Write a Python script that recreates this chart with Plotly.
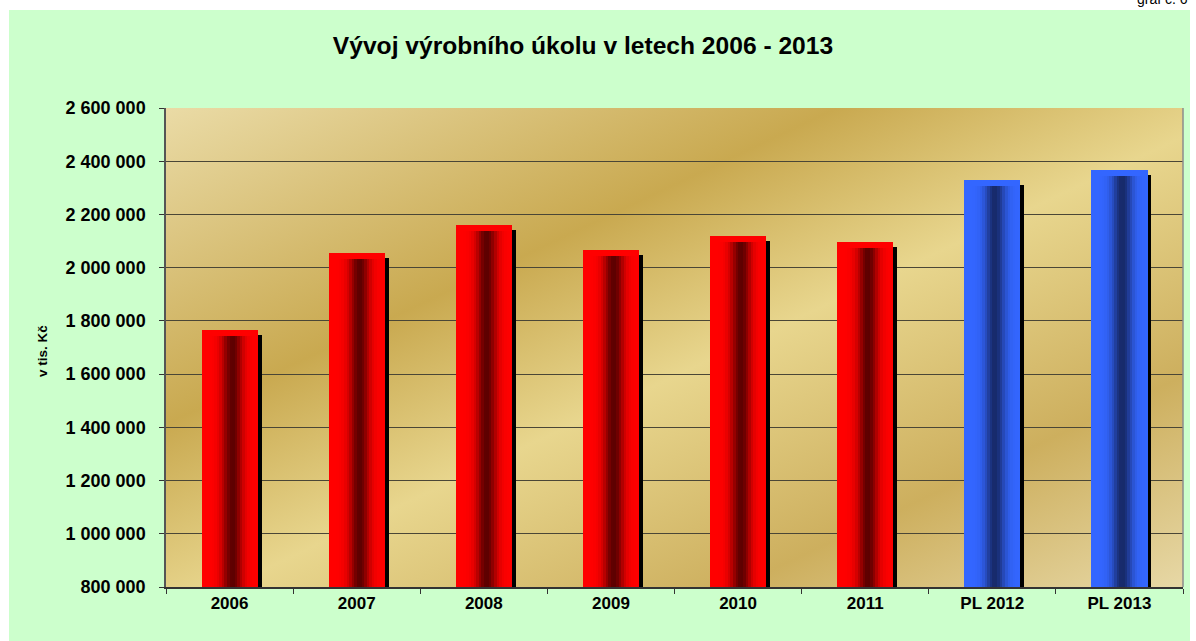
import base64
import math
import plotly.graph_objects as go

# ---- data ----
categories = ["2006", "2007", "2008", "2009", "2010", "2011", "PL 2012", "PL 2013"]
values = [1766000, 2056000, 2161000, 2067000, 2120000, 2097000, 2330000, 2368000]
y_tickvals = [800000, 1000000, 1200000, 1400000, 1600000, 1800000, 2000000, 2200000, 2400000, 2600000]
y_ticktext = ["800 000", "1 000 000", "1 200 000", "1 400 000", "1 600 000",
              "1 800 000", "2 000 000", "2 200 000", "2 400 000", "2 600 000"]

title_text = "Vývoj výrobního úkolu v letech 2006 - 2013"
y_title = "v tis. Kč"
corner_note = "graf č. 6"

# ---- layout geometry ----
W, H = 1196, 641
ml, mr, mt, mb = 166, 13, 108, 54
pw, ph = W - ml - mr, H - mt - mb
units_per_px = (2600000 - 800000) / ph
cat_px = pw / len(categories)


def px2x(px):
    return (px - ml) / pw


def px2y(py):
    return (H - mb - py) / ph


FONT = "Liberation Sans, Arial, sans-serif"

bar_w = 0.44
n_slices = 22


def hex2rgb(h):
    h = h.lstrip("#")
    return tuple(int(h[i:i + 2], 16) for i in (0, 2, 4))


def lerp(c1, c2, f):
    a, b = hex2rgb(c1), hex2rgb(c2)
    return "rgb(%d,%d,%d)" % tuple(round(a[i] + (b[i] - a[i]) * f) for i in range(3))


edge_cols = ["#FF0000" if not c.startswith("PL") else "#3366FF" for c in categories]
dark_cols = ["#5C0000" if not c.startswith("PL") else "#172A6A" for c in categories]

fig = go.Figure()

# shadow
shadow_dx = 4 / cat_px
shadow_drop = 5 * units_per_px
fig.add_trace(go.Bar(
    x=categories, y=[v - shadow_drop for v in values],
    width=bar_w, offset=-bar_w / 2 + shadow_dx,
    marker=dict(color="#000000", line=dict(width=0)),
    hoverinfo="skip", showlegend=False,
))

# gradient slices
sw = bar_w / n_slices
for k in range(n_slices):
    t = (k + 0.5) / n_slices
    f = math.exp(-((t - 0.55) / 0.18) ** 2)
    cols = [lerp(e, d, f) for e, d in zip(edge_cols, dark_cols)]
    fig.add_trace(go.Bar(
        x=categories, y=values,
        width=sw * 1.04, offset=-bar_w / 2 + k * sw,
        marker=dict(color=cols, line=dict(width=0)),
        hoverinfo="skip", showlegend=False,
    ))

# cylinder cap
cap_h = 6 * units_per_px
fig.add_trace(go.Bar(
    x=categories, y=[cap_h] * len(values), base=[v - cap_h for v in values],
    width=bar_w, offset=-bar_w / 2,
    marker=dict(color=edge_cols, line=dict(width=0), cornerradius=3),
    hoverinfo="skip", showlegend=False,
))

# plot-area gradient background (SVG)
svg = (
    '<svg xmlns="http://www.w3.org/2000/svg" width="1000" height="500" preserveAspectRatio="none">'
    '<defs><linearGradient id="g" x1="0" y1="0" x2="1" y2="1">'
    '<stop offset="0" stop-color="#EADBA6"/>'
    '<stop offset="0.33" stop-color="#C9A950"/>'
    '<stop offset="0.53" stop-color="#E8D68E"/>'
    '<stop offset="0.78" stop-color="#CDAF5E"/>'
    '<stop offset="1" stop-color="#E7D8A6"/>'
    '</linearGradient></defs>'
    '<rect width="1000" height="500" fill="url(#g)"/></svg>'
)
svg_uri = "data:image/svg+xml;base64," + base64.b64encode(svg.encode()).decode()

fig.update_layout(
    width=W, height=H,
    margin=dict(l=ml, r=mr, t=mt, b=mb, pad=0),
    paper_bgcolor="#CCFFCC",
    plot_bgcolor="rgba(0,0,0,0)",
    barmode="overlay",
    bargap=0,
    font=dict(family=FONT, color="#000000"),
    title=dict(
        text="<b>" + title_text + "</b>",
        x=583 / W, xref="container", xanchor="center",
        y=1 - 45 / H, yref="container", yanchor="middle",
        font=dict(size=24.6, family=FONT, color="#000000"),
    ),
    xaxis=dict(
        type="category", range=[-0.5, len(categories) - 0.5],
        showgrid=False, showline=True, linecolor="#333333", linewidth=1.5,
        ticks="outside", ticklen=5, tickcolor="#333333", tickson="boundaries",
        tickfont=dict(size=17, family=FONT, color="#000000"),
        ticktext=["<b>%s</b>" % c for c in categories], tickvals=categories,
        zeroline=False, fixedrange=True,
    ),
    yaxis=dict(
        range=[800000, 2600000],
        tickvals=y_tickvals, ticktext=["<b>%s</b>" % t for t in y_ticktext],
        showgrid=True, gridcolor="#4A4636", gridwidth=1,
        showline=True, linecolor="#555555", linewidth=1.5,
        ticks="outside", ticklen=5, tickcolor="#333333",
        tickfont=dict(size=18, family=FONT, color="#000000"),
        ticklabelstandoff=10,
        zeroline=False, fixedrange=True,
    ),
    images=[dict(
        source=svg_uri, xref="paper", yref="paper", x=0, y=1, sizex=1, sizey=1,
        xanchor="left", yanchor="top", sizing="stretch", layer="below",
    )],
    shapes=[
        # white page border strips outside the green frame
        dict(type="rect", xref="paper", yref="paper", x0=px2x(-5), x1=px2x(9), y0=px2y(H + 5), y1=px2y(-5),
             fillcolor="#FFFFFF", line=dict(width=0), layer="below"),
        dict(type="rect", xref="paper", yref="paper", x0=px2x(1190), x1=px2x(W + 5), y0=px2y(H + 5), y1=px2y(-5),
             fillcolor="#FFFFFF", line=dict(width=0), layer="below"),
        dict(type="rect", xref="paper", yref="paper", x0=px2x(-5), x1=px2x(W + 5), y0=px2y(10), y1=px2y(-5),
             fillcolor="#FFFFFF", line=dict(width=0), layer="below"),
        # right border of plot area
        dict(type="line", xref="paper", yref="paper", x0=1, x1=1, y0=0, y1=1,
             line=dict(color="#8C8C8C", width=1.5)),
    ],
    annotations=[
        dict(text="<b>" + y_title + "</b>", xref="paper", yref="paper",
             x=px2x(42), y=px2y(351), textangle=-90, showarrow=False,
             xanchor="center", yanchor="middle",
             font=dict(size=13.5, family=FONT, color="#000000")),
        dict(text=corner_note, xref="paper", yref="paper",
             x=px2x(1135), y=px2y(9), showarrow=False, xanchor="left", yanchor="bottom",
             font=dict(size=14, family=FONT, color="#000000")),
    ],
)

fig.write_html("out.html", config={"displayModeBar": False},
               post_script="document.body.style.margin='0';")
